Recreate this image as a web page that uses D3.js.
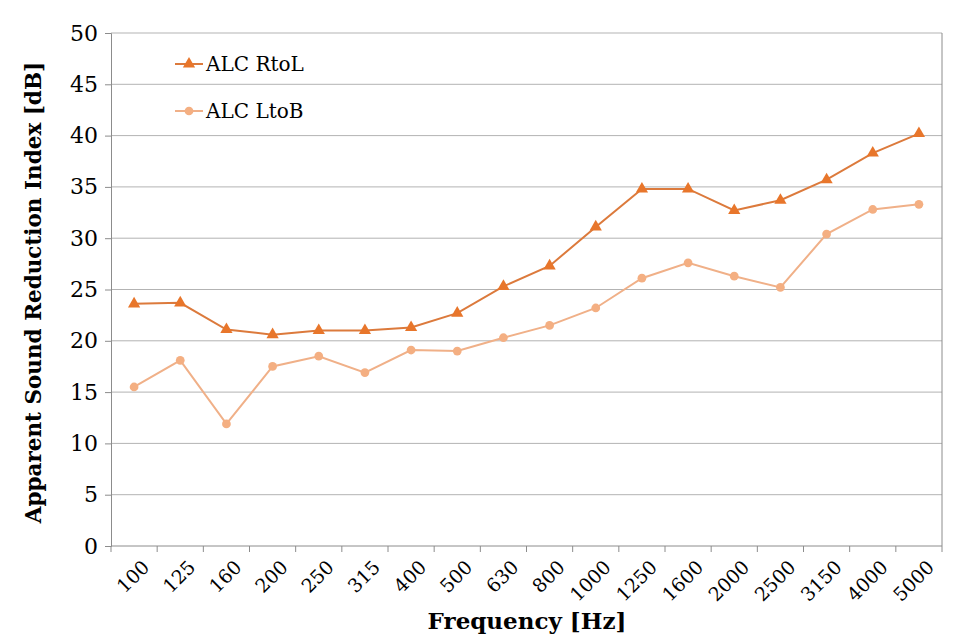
<!DOCTYPE html>
<html lang="en">
  <head>
    <meta charset="UTF-8" />
    <title>Apparent Sound Reduction Index</title>
    <script src="https://d3js.org/d3.v7.min.js"></script>
    <style>
      body {
        margin: 0;
        background: #fff;
      }
      svg text {
        font-family: 'DejaVu Serif', 'Liberation Serif', serif;
        fill: #000;
      }
    </style>
  </head>
  <body>
    <div id="chart"></div>
    <script>
      const frequencies = ['100', '125', '160', '200', '250', '315', '400', '500', '630',
        '800', '1000', '1250', '1600', '2000', '2500', '3150', '4000', '5000'];
      const rtoL = [23.6, 23.7, 21.1, 20.6, 21.0, 21.0, 21.3, 22.7, 25.3,
        27.3, 31.1, 34.8, 34.8, 32.7, 33.7, 35.7, 38.3, 40.2];
      const ltoB = [15.5, 18.1, 11.9, 17.5, 18.5, 16.9, 19.1, 19.0, 20.3,
        21.5, 23.2, 26.1, 27.6, 26.3, 25.2, 30.4, 32.8, 33.3];
      const yTicks = [0, 5, 10, 15, 20, 25, 30, 35, 40, 45, 50];

      const series = [
        { name: 'ALC RtoL', values: rtoL, line: '#dc7a3c', mark: '#e8762b', shape: d3.symbolTriangle },
        { name: 'ALC LtoB', values: ltoB, line: '#f0b088', mark: '#f4af82', shape: d3.symbolCircle },
      ];

      const margin = { top: 33, right: 36, bottom: 92, left: 111 };
      const W = 978, H = 638;
      const width = W - margin.left - margin.right;
      const height = H - margin.top - margin.bottom;

      const svg = d3.select('#chart').append('svg')
        .attr('width', W).attr('height', H);
      const g = svg.append('g')
        .attr('transform', `translate(${margin.left},${margin.top})`);

      const x = d3.scaleBand().domain(frequencies).range([0, width]);
      const y = d3.scaleLinear().domain([0, 50]).range([height, 0]);

      // gridlines
      g.selectAll('.grid').data(yTicks.filter(d => d > 0)).enter()
        .append('line')
        .attr('x1', 0).attr('x2', width)
        .attr('y1', d => y(d)).attr('y2', d => y(d))
        .attr('stroke', '#b3b3b3').attr('stroke-width', 1);

      // right border
      g.append('line')
        .attr('x1', width).attr('x2', width)
        .attr('y1', 0).attr('y2', height)
        .attr('stroke', '#8c8c8c');

      // y axis
      const yAxis = g.append('g')
        .call(d3.axisLeft(y).tickValues(yTicks).tickSize(6).tickPadding(7));
      yAxis.select('.domain').attr('stroke', '#8c8c8c');
      yAxis.selectAll('.tick line').attr('stroke', '#8c8c8c');
      yAxis.selectAll('.tick text').style('font-size', '22px');

      // x axis, ticks at category boundaries
      const xAxis = g.append('g').attr('transform', `translate(0,${height})`);
      xAxis.append('line').attr('x1', 0).attr('x2', width)
        .attr('stroke', '#8c8c8c');
      const bounds = frequencies.map(f => x(f)).concat([width]);
      xAxis.selectAll('.xt').data(bounds).enter().append('line')
        .attr('x1', d => d).attr('x2', d => d)
        .attr('y1', 0).attr('y2', 6)
        .attr('stroke', '#8c8c8c');
      xAxis.selectAll('.xl').data(frequencies).enter().append('text')
        .attr('transform', d => `translate(${x(d) + x.bandwidth() / 2 + 7},${13}) rotate(-45)`)
        .attr('text-anchor', 'end')
        .attr('dy', '0.7em')
        .style('font-size', '19px')
        .text(d => d);

      // lines and markers
      const line = d3.line()
        .x((d, i) => x(frequencies[i]) + x.bandwidth() / 2)
        .y(d => y(d));

      series.forEach(s => {
        g.append('path').datum(s.values)
          .attr('fill', 'none')
          .attr('stroke', s.line)
          .attr('stroke-width', 2)
          .attr('d', line);
        g.selectAll(null).data(s.values).enter().append('path')
          .attr('transform', (d, i) => `translate(${x(frequencies[i]) + x.bandwidth() / 2},${y(d)})`)
          .attr('d', d3.symbol().type(s.shape).size(s.shape === d3.symbolCircle ? 60 : 65))
          .attr('fill', s.mark);
      });

      // legend
      const legend = g.append('g').attr('transform', 'translate(64,31)');
      series.forEach((s, i) => {
        const row = legend.append('g').attr('transform', `translate(0,${i * 47})`);
        row.append('line').attr('x1', 0).attr('x2', 28)
          .attr('stroke', s.line).attr('stroke-width', 2);
        row.append('path').attr('transform', 'translate(14,0)')
          .attr('d', d3.symbol().type(s.shape).size(s.shape === d3.symbolCircle ? 60 : 65))
          .attr('fill', s.mark);
        row.append('text').attr('x', 31).attr('dy', '0.35em')
          .style('font-size', '20px').text(s.name);
      });

      // axis titles
      svg.append('text')
        .attr('transform', `translate(41,${margin.top + height / 2 + 3}) rotate(-90)`)
        .attr('text-anchor', 'middle')
        .style('font-size', '21.5px').style('font-weight', 'bold')
        .text('Apparent Sound Reduction Index [dB]');
      svg.append('text')
        .attr('x', 527).attr('y', 629)
        .attr('text-anchor', 'middle')
        .style('font-size', '23px').style('font-weight', 'bold')
        .text('Frequency [Hz]');
    </script>
  </body>
</html>
